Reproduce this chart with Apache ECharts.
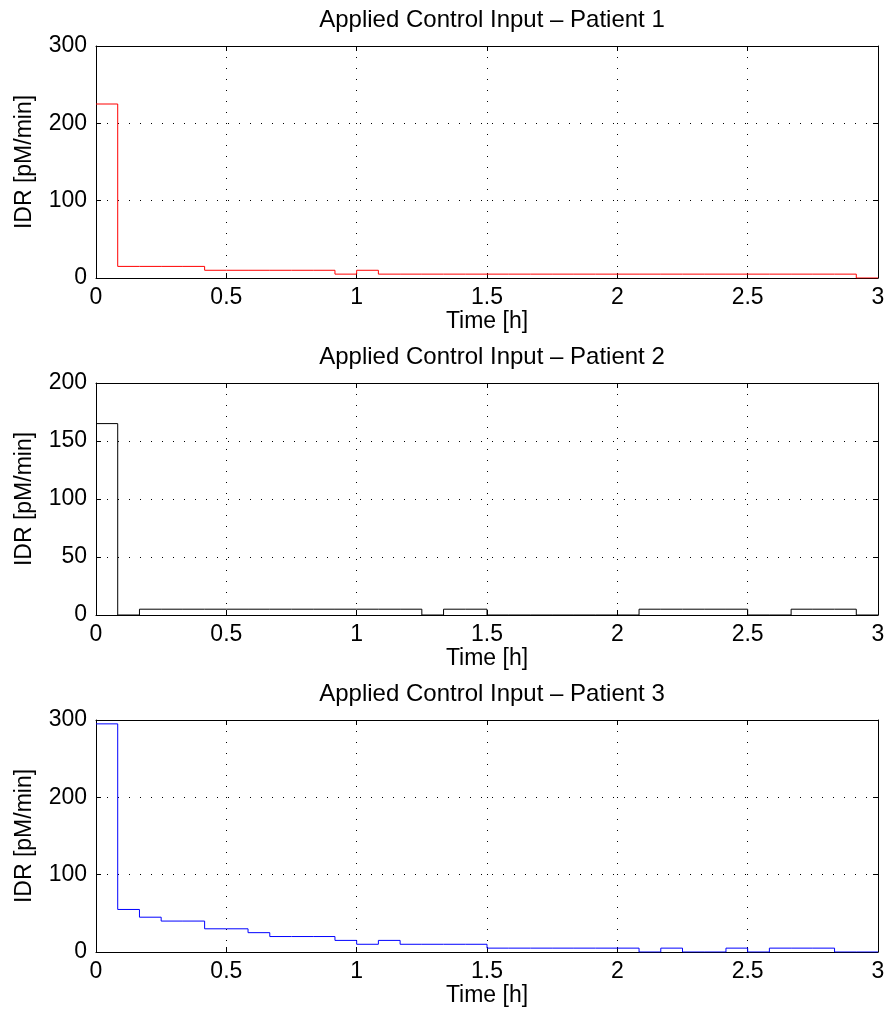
<!DOCTYPE html>
<html>
<head>
<meta charset="utf-8">
<script src="https://cdn.jsdelivr.net/npm/echarts@6/dist/echarts.min.js"></script>
<style>html,body{margin:0;padding:0;background:#fff}#c{width:890px;height:1021px}</style>
</head>
<body>
<div id="c"></div>
<script>
// Sample instants (hours), 5-minute control intervals
var timesH = [0, 0.0833, 0.1667, 0.25, 0.3333, 0.4167, 0.5, 0.5833, 0.6667, 0.75, 0.8333, 0.9167,
  1, 1.0833, 1.1667, 1.25, 1.3333, 1.4167, 1.5, 1.5833, 1.6667, 1.75, 1.8333, 1.9167,
  2, 2.0833, 2.1667, 2.25, 2.3333, 2.4167, 2.5, 2.5833, 2.6667, 2.75, 2.8333, 2.9167, 3];

// IDR [pM/min] held over each interval (last entry = value at t = 3 h)
var patient1 = [225, 15, 15, 15, 15, 10, 10, 10, 10, 10, 10, 5,
  10, 5, 5, 5, 5, 5, 5, 5, 5, 5, 5, 5,
  5, 5, 5, 5, 5, 5, 5, 5, 5, 5, 5, 0, 0];
var patient2 = [165, 0, 5, 5, 5, 5, 5, 5, 5, 5, 5, 5,
  5, 5, 5, 0, 5, 5, 0, 0, 0, 0, 0, 0,
  0, 5, 5, 5, 5, 5, 0, 0, 5, 5, 5, 0, 0];
var patient3 = [295, 55, 45, 40, 40, 30, 30, 25, 20, 20, 20, 15,
  10, 15, 10, 10, 10, 10, 5, 5, 5, 5, 5, 5,
  5, 0, 5, 0, 0, 5, 0, 5, 5, 5, 0, 0, 0];

var titles = ['Applied Control Input \u2013 Patient 1', 'Applied Control Input \u2013 Patient 2', 'Applied Control Input \u2013 Patient 3'];
var xTicks = [0, 0.5, 1, 1.5, 2, 2.5, 3];
var yMax = [300, 200, 300];
var yStep = [100, 50, 100];
var colors = ['#ff0000', '#000000', '#0000ff'];
var seriesData = [patient1, patient2, patient3];

var FONT = 'Liberation Sans, Arial, Helvetica, sans-serif';
var FS = 23;
var TFS = 24;
var tops = [46, 383, 720];
var H = 232, L = 96, W = 782;

var option = {
  animation: false,
  backgroundColor: '#fff',
  title: [], grid: [], xAxis: [], yAxis: [], series: []
};

var grid = {type: [1, 10], color: '#000', width: 1};
for (var i = 0; i < 3; i++) {
  option.grid.push({left: L, top: tops[i], width: W, height: H, containLabel: false});
  option.title.push({
    text: titles[i], left: L + W / 2, top: tops[i] - 43, textAlign: 'center',
    textStyle: {fontFamily: FONT, fontSize: TFS, fontWeight: 'normal', color: '#000'}
  });
  // bottom x axis
  option.xAxis.push({
    type: 'value', gridIndex: i, min: 0, max: 3, interval: 0.5, position: 'bottom',
    name: 'Time [h]', nameLocation: 'middle', nameGap: 32,
    nameTextStyle: {fontFamily: FONT, fontSize: FS, color: '#000'},
    axisLine: {show: true, onZero: false, lineStyle: {color: '#000', width: 1}},
    axisTick: {show: true, inside: true, length: 5, lineStyle: {color: '#000'}},
    axisLabel: {show: true, margin: 8, fontFamily: FONT, fontSize: FS, color: '#000',
      formatter: function (v) { return xTicks.indexOf(v) >= 0 ? String(v) : ''; }},
    splitLine: {show: true, lineStyle: grid}
  });
  // top x axis (box)
  option.xAxis.push({
    type: 'value', gridIndex: i, min: 0, max: 3, interval: 0.5, position: 'top',
    axisLine: {show: true, onZero: false, lineStyle: {color: '#000', width: 1}},
    axisTick: {show: true, inside: true, length: 5, lineStyle: {color: '#000'}},
    axisLabel: {show: false}, splitLine: {show: false}
  });
  // left y axis
  option.yAxis.push({
    type: 'value', gridIndex: i, min: 0, max: yMax[i], interval: yStep[i], position: 'left',
    name: 'IDR [pM/min]', nameLocation: 'middle', nameGap: 60, nameRotate: 90,
    nameTextStyle: {fontFamily: FONT, fontSize: FS, color: '#000'},
    axisLine: {show: true, onZero: false, lineStyle: {color: '#000', width: 1}},
    axisTick: {show: true, inside: true, length: 5, lineStyle: {color: '#000'}},
    axisLabel: {show: true, margin: 9, fontFamily: FONT, fontSize: FS, color: '#000'},
    splitLine: {show: true, lineStyle: grid}
  });
  // right y axis (box)
  option.yAxis.push({
    type: 'value', gridIndex: i, min: 0, max: yMax[i], interval: yStep[i], position: 'right',
    axisLine: {show: true, onZero: false, lineStyle: {color: '#000', width: 1}},
    axisTick: {show: true, inside: true, length: 5, lineStyle: {color: '#000'}},
    axisLabel: {show: false}, splitLine: {show: false}
  });
  var d = [];
  for (var k = 0; k < timesH.length; k++) d.push([timesH[k], seriesData[i][k]]);
  option.series.push({
    type: 'line', xAxisIndex: 2 * i, yAxisIndex: 2 * i, data: d, step: 'end',
    showSymbol: false, symbol: 'none', lineStyle: {color: colors[i], width: 1}, z: 5
  });
}

var chart = echarts.init(document.getElementById('c'), null, {renderer: 'canvas'});
chart.setOption(option);
</script>
</body>
</html>
